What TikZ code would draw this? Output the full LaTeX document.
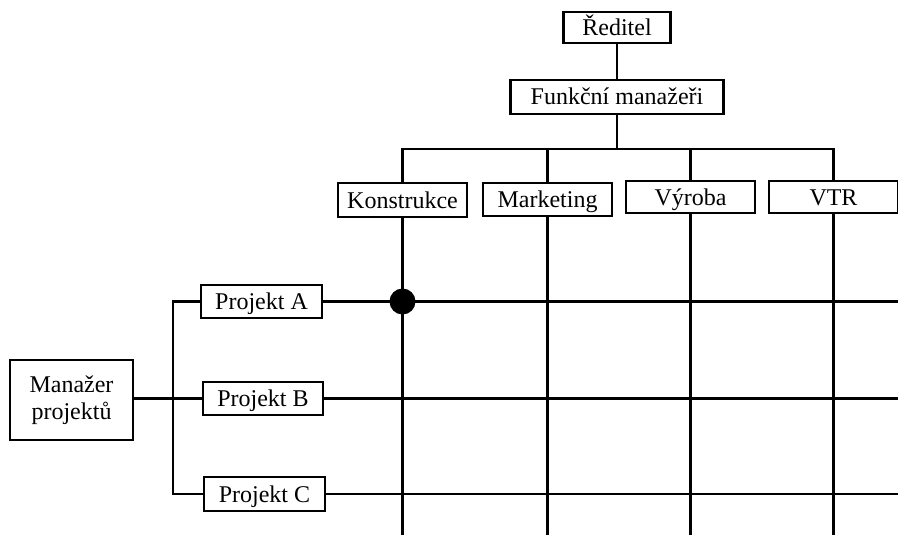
\documentclass[tikz,border=0pt]{standalone}
\usepackage{fontspec}
\setmainfont{Liberation Serif}
\begin{document}
\begin{tikzpicture}[x=1pt,y=-1pt,
  unitbox/.style={draw, line width=2.3pt, fill=white, inner sep=0pt,
    text height=16pt, text depth=0pt,
    font=\fontsize{24}{28}\selectfont, align=center},
  link/.style={line width=2.1pt}]
\useasboundingbox (0,0) rectangle (898,535);
\begin{scope}
\clip (0,0) rectangle (898,535);

% top of the hierarchy
\node[unitbox, minimum width=107pt, minimum height=31pt] (R) at (617,27.5) {Ředitel};
\node[unitbox, minimum width=213pt, minimum height=34pt] (F) at (617,97) {Funkční manažeři};

% helper coordinates for the bus and the open ends of the grid
\coordinate (bus) at (0,149);
\coordinate (bottom) at (0,540);
\coordinate (right) at (900,0);

\draw[link] (R.south) -- (F.north);
\draw[link] (F.south) -- (F.south |- bus);

% functional departments
\node[unitbox, minimum width=129pt, minimum height=34pt] (K) at (402.5,200) {Konstrukce};
\node[unitbox, minimum width=129pt, minimum height=33pt] (M) at (547.5,199.5) {Marketing};
\node[unitbox, minimum width=129pt, minimum height=32pt] (V) at (690.5,197) {Výroba};
\node[unitbox, minimum width=129pt, minimum height=32pt] (T) at (833.5,197) {VTR};

\draw[link] (K.north) -- (K.north |- bus) -- (T.north |- bus) -- (T.north);
\draw[link] (M.north) -- (M.north |- bus);
\draw[link] (V.north) -- (V.north |- bus);

% projects
\node[unitbox, minimum width=123pt, minimum height=80pt, text height=, text depth=]
  (PM) at (71.5,400) {Manažer\\[-1pt]projektů};
\node[unitbox, minimum width=121pt, minimum height=33pt] (A) at (261.5,301.5) {Projekt A};
\node[unitbox, minimum width=120pt, minimum height=33pt] (B) at (263,398.5) {Projekt B};
\node[unitbox, minimum width=121pt, minimum height=34pt] (C) at (264.5,494) {Projekt C};

\coordinate (fork) at (173,0);
\draw[link] (PM.east |- B.west) -- (B.west);
\draw[link] (A.west) -- (fork |- A.west) -- (fork |- C.west) -- (C.west);

% matrix grid
\draw[link] (A.east) -- (A.east -| right);
\draw[link] (B.east) -- (B.east -| right);
\draw[link] (C.east) -- (C.east -| right);
\draw[link] (K.south) -- (K.south |- bottom);
\draw[link] (M.south) -- (M.south |- bottom);
\draw[link] (V.south) -- (V.south |- bottom);
\draw[link] (T.south) -- (T.south |- bottom);

% responsibility point
\fill (K.south |- A.east) circle (13pt) node (dot) {};
\end{scope}
\end{tikzpicture}
\end{document}
